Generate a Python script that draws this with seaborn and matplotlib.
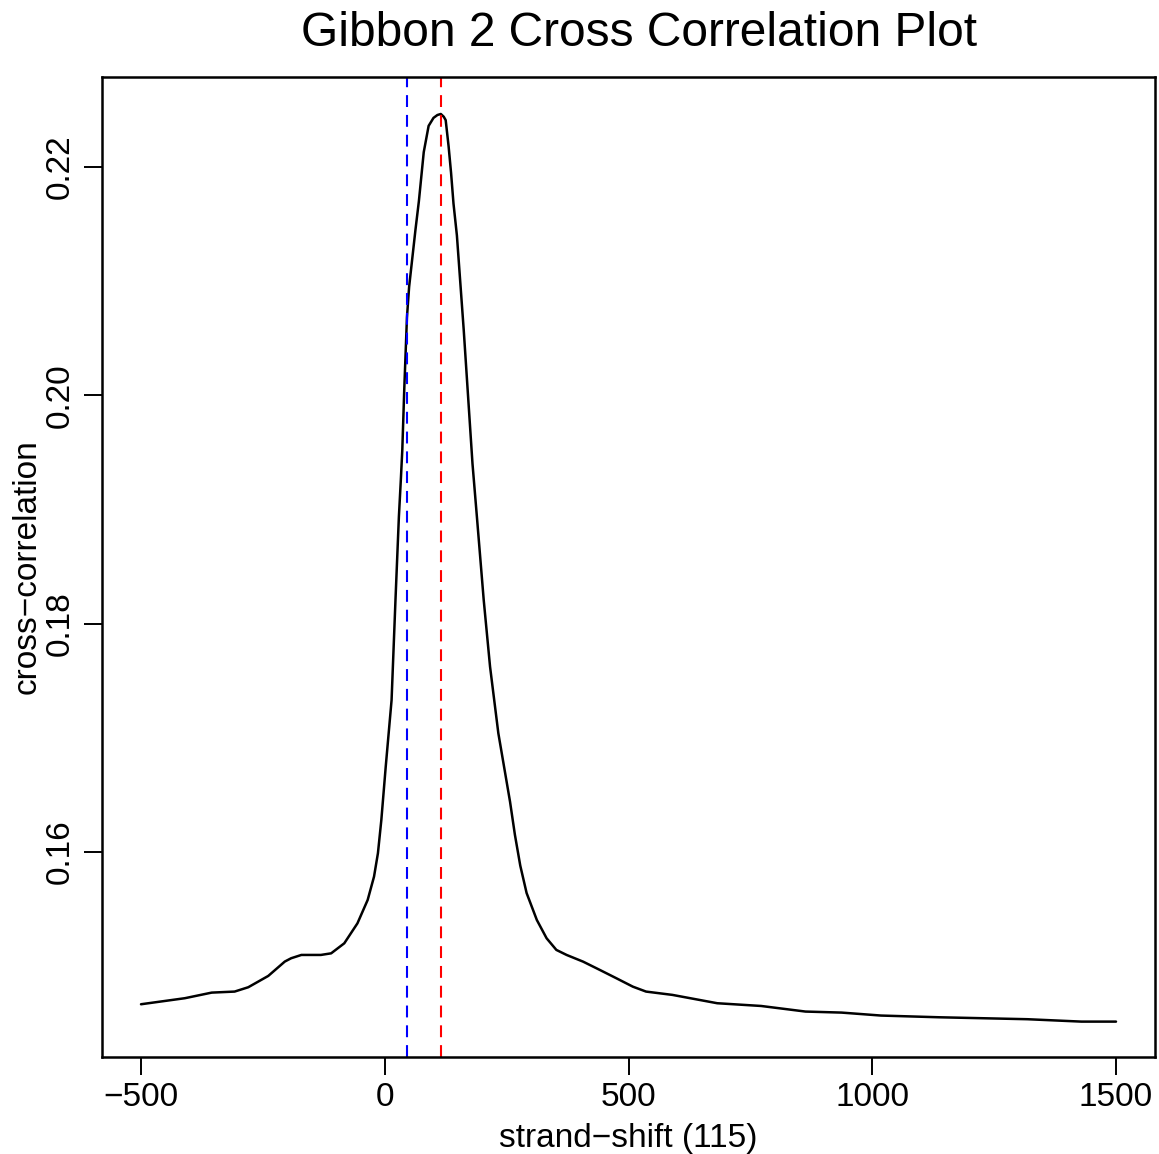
import matplotlib
matplotlib.use("Agg")
import matplotlib.pyplot as plt
import seaborn as sns
import pandas as pd

# ---- data ----
shift = [-500, -410, -355, -308, -280, -239, -205, -192, -171, -131, -110, -83, -56, -35,
         -22, -14, -7, 2, 14, 22, 29, 33, 36, 40, 45.5, 50, 63, 70, 80, 90, 100, 108,
         115, 121, 125, 131, 136, 141, 148, 162, 180, 189, 203, 216, 233, 257, 267, 278,
         291, 312, 332, 352, 373, 407, 441, 475, 509, 536, 590, 682, 772, 863, 937, 1018,
         1137, 1318, 1429, 1500]
xcor = [0.14666, 0.14719, 0.14768, 0.14777, 0.14815, 0.14914, 0.15040, 0.15069, 0.15098,
        0.15098, 0.15112, 0.15200, 0.15375, 0.15580, 0.15784, 0.15989, 0.16280, 0.16747,
        0.17330, 0.18207, 0.18937, 0.19260, 0.19521, 0.20050, 0.20680, 0.20950, 0.21450,
        0.21700, 0.22130, 0.22360, 0.22430, 0.22455, 0.22464, 0.22440, 0.22410, 0.22180,
        0.21950, 0.21680, 0.21400, 0.20572, 0.19400, 0.18937, 0.18207, 0.17623, 0.17040,
        0.16440, 0.16150, 0.15880, 0.15640, 0.15404, 0.15244, 0.15142, 0.15098, 0.15039,
        0.14967, 0.14894, 0.14820, 0.14777, 0.14748, 0.14675, 0.14651, 0.14602, 0.14593,
        0.14567, 0.14552, 0.14535, 0.14514, 0.14514]
peak_shift = 115
min_shift = 45
xticks = [-500, 0, 500, 1000, 1500]
yticks = [0.16, 0.18, 0.20, 0.22]
ytick_labels = ["0.16", "0.18", "0.20", "0.22"]

df = pd.DataFrame({"shift": shift, "xcor": xcor})

sns.set_theme(style="white")
plt.rcParams["font.family"] = ["Liberation Sans", "DejaVu Sans"]

W, H = 1159, 1154
fig = plt.figure(figsize=(W / 100, H / 100), dpi=100)
ax = fig.add_axes([102 / W, 1 - 1057 / H, (1155 - 102) / W, (1057 - 77) / H])

sns.lineplot(data=df, x="shift", y="xcor", ax=ax, color="black", linewidth=1.8,
             estimator=None, sort=False)
ax.axvline(min_shift, color="blue", linewidth=1.5, linestyle=(0, (5.7, 3.8)))
ax.axvline(peak_shift, color="red", linewidth=1.5, linestyle=(0, (5.7, 3.8)))

ax.set_xlim(-580, 1580)
ax.set_ylim(0.14204, 0.22788)
ax.set_xticks(xticks)
ax.set_xticklabels([str(t).replace("-", "\u2212") for t in xticks])
ax.set_yticks(yticks)
ax.set_yticklabels(ytick_labels, rotation=90, va="center")

for s in ax.spines.values():
    s.set_visible(True)
    s.set_color("black")
    s.set_linewidth(1.8)

ax.tick_params(axis="both", which="major", direction="out", length=13, width=1.4,
               colors="black", labelsize=24, bottom=True, left=True)
ax.tick_params(axis="x", pad=5)
ax.tick_params(axis="y", pad=6)

ax.set_xlabel("strand\u2212shift (115)", fontsize=24, color="black")
ax.set_ylabel("cross\u2212correlation", fontsize=24, color="black")
ax.xaxis.set_label_coords(0.5, (1057 - 1138) / 980)
ax.xaxis.label.set_va("center")
ax.yaxis.set_label_coords((27 - 102) / 1053, 0.5)
ax.yaxis.label.set_va("center")
ax.yaxis.label.set_ha("center")

fig.text(639 / W, 1 - 33 / H, "Gibbon 2 Cross Correlation Plot", fontsize=34.5,
         ha="center", va="center", color="black")

fig.savefig("out.png", dpi=100, facecolor="white")
